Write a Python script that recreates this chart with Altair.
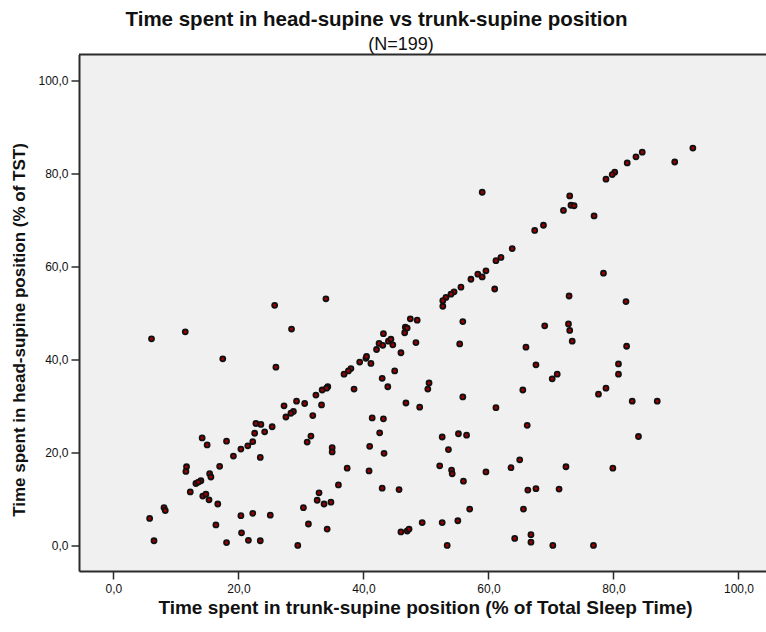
import altair as alt
import pandas as pd

# Share of total sleep time spent supine, per patient (N=199)
trunk_supine = [
    92.7, 89.8, 84.6, 83.6, 82.2, 80.2, 79.8, 78.8, 73.0, 73.2, 73.7, 72.0, 76.9, 68.8, 78.4, 72.9,
    59.0, 67.4, 63.8, 61.2, 62.0, 59.6, 58.3, 59.0, 57.2, 61.0, 55.6, 54.5, 54.0, 53.2, 34.0,
    82.0, 69.0, 72.8, 73.0, 73.4, 82.1, 71.0, 70.2, 80.8, 80.8, 78.8, 77.6, 83.0, 87.0, 84.0,
    72.4, 79.9, 71.3, 70.3, 76.8,
    25.8, 28.5, 11.5, 6.1, 17.5, 26.0, 29.3, 30.6, 27.3, 28.8, 28.4, 27.6, 25.4, 22.8, 23.6,
    24.2, 22.6, 31.0, 22.3, 21.5, 20.4, 19.2, 23.5, 14.2, 15.0, 18.1, 17.0, 11.7, 11.6, 15.4,
    15.6, 14.0, 13.2, 13.6, 12.3, 14.3, 14.8, 15.3, 16.7, 8.1, 8.3, 5.8, 6.5, 16.4, 20.4,
    22.3, 25.1, 20.5, 21.6, 23.5, 18.1, 29.5, 30.4, 31.2,
    52.7, 52.7, 55.9, 55.4, 66.0, 67.6, 65.5, 61.2, 55.9, 66.2, 47.5, 48.6, 46.7, 47.0, 46.6,
    48.4, 43.2, 42.5, 43.1, 44.0, 44.4, 44.7, 42.1, 46.0, 40.4, 40.5, 39.4, 41.2, 38.0, 37.6,
    36.9, 45.0, 43.0, 43.9, 38.5, 34.3, 34.1, 33.4, 32.4, 33.3, 31.9, 46.8, 49.0, 50.3, 50.5,
    41.4, 43.2, 42.6, 41.0, 43.3, 40.9, 37.4, 35.0, 35.0, 31.6, 36.0, 32.9, 32.6, 33.7, 34.8,
    34.2, 43.0, 45.7, 46.0, 47.0, 47.3, 49.4, 52.6, 55.1, 57.0, 53.4, 52.6, 53.6, 55.2, 56.5,
    52.2, 54.1, 54.2, 56.0, 59.6, 63.6, 65.0, 66.3, 67.6, 65.6, 64.2, 66.8, 66.8,
]
head_supine = [
    85.4, 82.4, 84.5, 83.5, 82.2, 80.2, 79.7, 78.7, 75.1, 73.1, 73.0, 72.0, 70.8, 68.8, 58.5, 53.6,
    75.9, 67.7, 63.8, 61.2, 61.9, 59.0, 58.3, 57.7, 57.2, 55.1, 55.5, 54.5, 54.0, 53.3, 53.0,
    52.4, 47.2, 47.6, 46.2, 43.9, 42.8, 36.8, 35.8, 39.0, 36.8, 33.8, 32.5, 31.0, 31.0, 23.4,
    16.9, 16.6, 12.1, 0.0, 0.0,
    51.6, 46.5, 45.9, 44.4, 40.1, 38.3, 31.0, 30.5, 30.0, 28.8, 28.4, 27.6, 25.5, 26.2, 26.0,
    24.4, 24.1, 22.2, 22.3, 21.4, 20.7, 19.2, 18.9, 23.1, 21.6, 22.4, 17.0, 16.9, 15.9, 15.4,
    14.7, 13.9, 13.3, 13.6, 11.5, 10.6, 11.0, 9.8, 8.9, 8.1, 7.5, 5.8, 1.0, 4.4, 6.4,
    6.9, 6.5, 2.7, 1.1, 1.0, 0.6, 0.0, 8.1, 4.6,
    52.6, 51.4, 48.1, 43.3, 42.6, 38.8, 33.4, 29.6, 31.9, 25.8, 48.7, 48.4, 46.9, 46.7, 45.7,
    43.6, 45.5, 43.4, 43.0, 43.9, 44.3, 43.1, 42.1, 41.4, 40.2, 40.6, 39.4, 39.1, 38.0, 37.5,
    36.8, 37.5, 35.9, 34.1, 33.6, 34.1, 33.8, 33.4, 32.3, 30.2, 27.9, 30.6, 29.7, 33.6, 34.9,
    27.4, 27.2, 24.2, 21.3, 19.8, 16.0, 16.6, 21.0, 20.1, 23.5, 13.0, 11.3, 9.7, 8.9, 9.3,
    3.5, 12.3, 12.0, 2.9, 3.1, 3.5, 4.9, 4.9, 5.3, 7.8, 0.0, 23.3, 20.6, 24.0, 23.7,
    17.1, 16.2, 15.4, 13.8, 15.8, 16.7, 18.4, 11.9, 12.2, 7.8, 1.5, 2.3, 0.7,
]
tick_values = [0, 20, 40, 60, 80, 100]
subtitle_text = ["(N=199)"]

df = pd.DataFrame({"trunk": trunk_supine, "head": head_supine})

FONT = "Liberation Sans, Arial, sans-serif"
W, H = 687, 516.5
LINE = "#2b2b2b"
comma_decimal = "replace(format(datum.value, '.1f'), '.', ',')"

points = alt.Chart(df).mark_circle(
    size=25, color="#9e0000", stroke="#111111", strokeWidth=1.8, opacity=1
).encode(
    x=alt.X(
        "trunk:Q",
        scale=alt.Scale(domain=[-5.5, 104.4], nice=False, zero=False),
        axis=alt.Axis(
            values=tick_values, labelExpr=comma_decimal, grid=False,
            title="Time spent in trunk-supine position (% of Total Sleep Time)",
            titleX=346, titleY=36, titleBaseline="middle", titleAlign="center",
            titleFontSize=19, labelPadding=4,
        ),
    ),
    y=alt.Y(
        "head:Q",
        scale=alt.Scale(domain=[-5.5, 105.5], nice=False, zero=False),
        axis=alt.Axis(
            values=tick_values, labelExpr=comma_decimal, grid=False,
            title="Time spent in head-supine position (% of TST)",
            titleX=-60, titleY=275, titleBaseline="middle", titleAlign="center",
            titleFontSize=17, labelPadding=3,
        ),
    ),
)

# top edge of the plot frame
top_edge = alt.Chart(pd.DataFrame({"k": [0]})).mark_rule(
    color=LINE, strokeWidth=2
).encode(x=alt.value(0), x2=alt.value(W), y=alt.value(0))

subtitle = alt.Chart(pd.DataFrame({"t": subtitle_text})).mark_text(
    font=FONT, fontSize=18, color="#111111", align="center", baseline="middle"
).encode(text="t:N", x=alt.value(322), y=alt.value(-10))

chart = alt.layer(top_edge, points, subtitle).properties(
    width=W,
    height=H,
    padding={"left": 79, "top": 54.5, "right": 0, "bottom": 61},
    autosize=alt.AutoSizeParams(type="none"),
    title=alt.TitleParams(
        text="Time spent in head-supine vs trunk-supine position",
        font=FONT, fontSize=20.5, fontWeight="bold", color="#111111",
        anchor="middle", dx=-46, offset=5,
    ),
).configure_view(
    fill="#f0f0f0", stroke="transparent"
).configure_axis(
    domainColor=LINE, domainWidth=2, tickColor=LINE, tickWidth=1.5, tickSize=8,
    labelFont=FONT, labelFontSize=12, labelColor="#111111",
    titleFont=FONT, titleFontWeight="bold", titleColor="#111111",
)

chart.save("out.html", embed_options={"renderer": "svg", "actions": False})
